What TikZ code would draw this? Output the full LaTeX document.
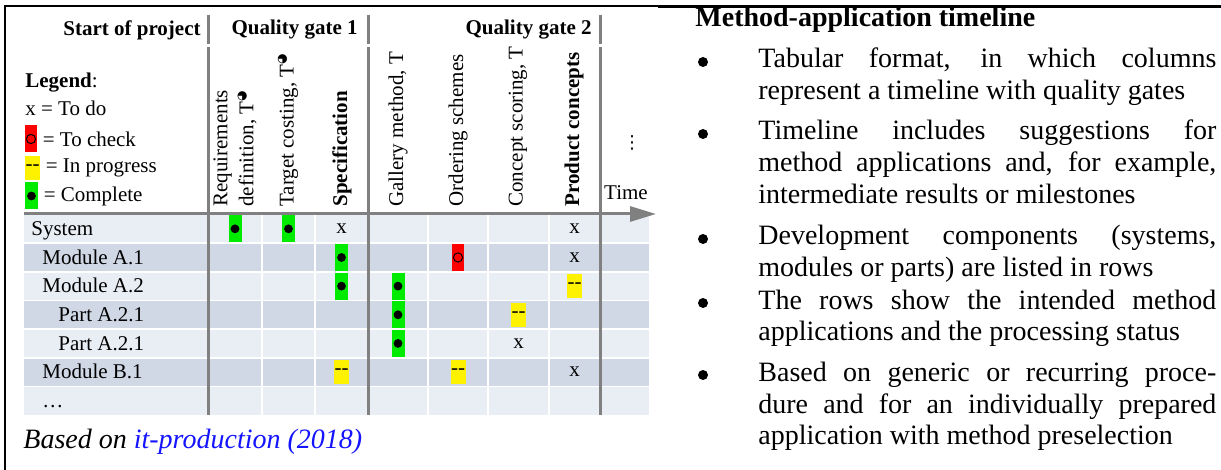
\documentclass[tikz,border=0pt]{standalone}
\usepackage{fontspec}
\setmainfont{Liberation Serif}
\newfontfamily\symfont{DejaVu Sans}
\usetikzlibrary{arrows.meta,positioning}

\definecolor{rowlight}{RGB}{233,237,244}
\definecolor{rowdark}{RGB}{208,215,229}
\definecolor{gridgray}{RGB}{128,128,128}
\definecolor{linkblue}{RGB}{20,20,255}
\definecolor{okgreen}{RGB}{0,235,0}

\newcommand{\tabfont}{\fontsize{10.5}{13}\selectfont}
\newcommand{\txtfont}{\fontsize{14}{16}\selectfont}
\newcommand{\halfT}{T\raisebox{4pt}{\symfont\fontsize{6}{6}\selectfont ◕}}

\begin{document}
\begin{tikzpicture}[x=0.5pt, y=-0.5pt, font=\tabfont,
	every node/.style={inner sep=0pt},
	gridline/.style={gridgray, line width=1.5pt},
	cellsep/.style={white, line width=0.8pt},
	colhead/.style={rotate=90, anchor=west, align=left},
	stbox/.style={minimum width=6.5pt, minimum height=13.5pt},
	stdone/.style={stbox, fill=okgreen, node contents={}, path picture={\fill[black] (path picture bounding box.center) circle (2.2pt);}},
	stcheck/.style={stbox, minimum width=6pt, fill=red, node contents={}, path picture={\draw[black, line width=0.5pt] (path picture bounding box.center) circle (2.3pt);}},
	stprog/.style={stbox, minimum width=7.5pt, minimum height=12pt, fill=yellow, node contents={-{}-}},
	sttodo/.style={node contents=x},
	bullet/.style={circle, fill=black, minimum size=5pt},
	itemtext/.style={anchor=base west, font=\txtfont, text width=229pt, align=justify}]
	\useasboundingbox (0,0) rectangle (1221,470);

	% frame
	\draw[line width=1pt] (5,470) -- (5,6) -- (658,6);
	\draw[line width=1.6pt] (658,6.5) -- (1221,6.5);

	% rows of the table
	\foreach \lab/\ind/\col [count=\i] in {System/31/rowlight, Module A.1/42/rowdark, Module A.2/42/rowlight, Part A.2.1/58/rowdark, Part A.2.1/58/rowlight, Module B.1/42/rowdark, \dots/42/rowlight}
	{
		\pgfmathsetmacro\ytop{214.5+28.65*(\i-1)}
		\fill[\col] (24,\ytop) rectangle (649,\ytop+28.65);
		\node[anchor=base west] (row\i) at (\ind,\ytop+21) {\lab};
	}
	\foreach \i in {1,...,6}
		\draw[cellsep] (24,214.5+28.65*\i) -- (649,214.5+28.65*\i);
	\foreach \x in {262,315,428,488,549}
		\draw[cellsep] (\x,215) -- (\x,415);
	\foreach \x in {208,368,600}
	{
		\draw[gridline] (\x,15) -- (\x,44);
		\draw[gridline] (\x,47) -- (\x,415);
	}

	% time axis
	\coordinate (t0) at (24,214);
	\coordinate (t1) at (656,214);
	\draw[gridline, -{Triangle[length=13pt,width=7.5pt]}] (t0) -- (t1);

	% header
	\node[anchor=east, font=\tabfont\bfseries] (start) at (201,30) {Start of project};
	\node[anchor=east, font=\tabfont\bfseries] (qg1) at (358,30) {Quality gate 1};
	\node[anchor=east, font=\tabfont\bfseries] (qg2) at (592,30) {Quality gate 2};

	% legend
	\node[anchor=base west] (leg) at (25,88) {\textbf{Legend}:};
	\node[anchor=base west] (ltodo) at (25,116) {x = To do};
	\node (lcheck) at (31,139) [stcheck];
	\node[right=2.5pt of lcheck] (lchecktxt) {= To check};
	\node (lprog) at (32.5,168) [stprog];
	\node[right=2.5pt of lprog] (lprogtxt) {= In progress};
	\node (ldone) at (31.5,196) [stdone];
	\node[right=2.5pt of ldone] (ldonetxt) {= Complete};

	% method columns
	\node[colhead] (reqdef) at (235,207) {Requirements\\definition, \halfT};
	\node[colhead] (target) at (288,207) {Target costing, \halfT};
	\node[colhead, font=\tabfont\bfseries] (spec) at (342,207) {Specification};
	\node[colhead] (gallery) at (398,207) {Gallery method, T};
	\node[colhead] (ordering) at (458,207) {Ordering schemes};
	\node[colhead] (scoring) at (518,207) {Concept scoring, T};
	\node[colhead, font=\tabfont\bfseries] (product) at (574,207) {Product concepts};
	\node (time) at (626,193) {Time};
	\node (more) at (632,143) {\symfont\fontsize{9}{9}\selectfont ⋮};

	% status entries: column x / row / status
	\foreach \x/\r/\st [count=\k] in {235/1/stdone, 288.5/1/stdone, 341.5/1/sttodo, 574.5/1/sttodo,
		341.5/2/stdone, 458/2/stcheck, 574.5/2/sttodo,
		341.5/3/stdone, 398/3/stdone, 574.5/3/stprog,
		398/4/stdone, 518.5/4/stprog,
		398/5/stdone, 518.5/5/sttodo,
		341.5/6/stprog, 458/6/stprog, 574.5/6/sttodo}
		\node (st\k) at (\x,{214.5+28.65*(\r-0.5)}) [\st];

	\node[anchor=base west, font=\txtfont\itshape] (source) at (23,448) {Based on \textcolor{linkblue}{it-production (2018)}};

	% description
	\node[anchor=base west, font=\txtfont\bfseries] (title) at (695,27) {Method-application timeline};
	\node[bullet] (b1) at (703,62) {};
	\node[itemtext] (it1) at (758,68) {Tabular format, in which columns\linebreak represent a timeline with quality gates};
	\node[bullet] (b2) at (703,134) {};
	\node[itemtext] (it2) at (758,140) {Timeline includes suggestions for\linebreak method applications and, for example,\linebreak intermediate results or milestones};
	\node[bullet] (b3) at (703,239) {};
	\node[itemtext] (it3) at (758,245) {Development components (systems,\linebreak modules or parts) are listed in rows};
	\node[bullet] (b4) at (703,303) {};
	\node[itemtext] (it4) at (758,309) {The rows show the intended method\linebreak applications and the processing status};
	\node[bullet] (b5) at (703,375) {};
	\node[itemtext] (it5) at (758,381) {Based on generic or recurring proce-\linebreak dure and for an individually prepared\linebreak application with method preselection};
\end{tikzpicture}
\end{document}
